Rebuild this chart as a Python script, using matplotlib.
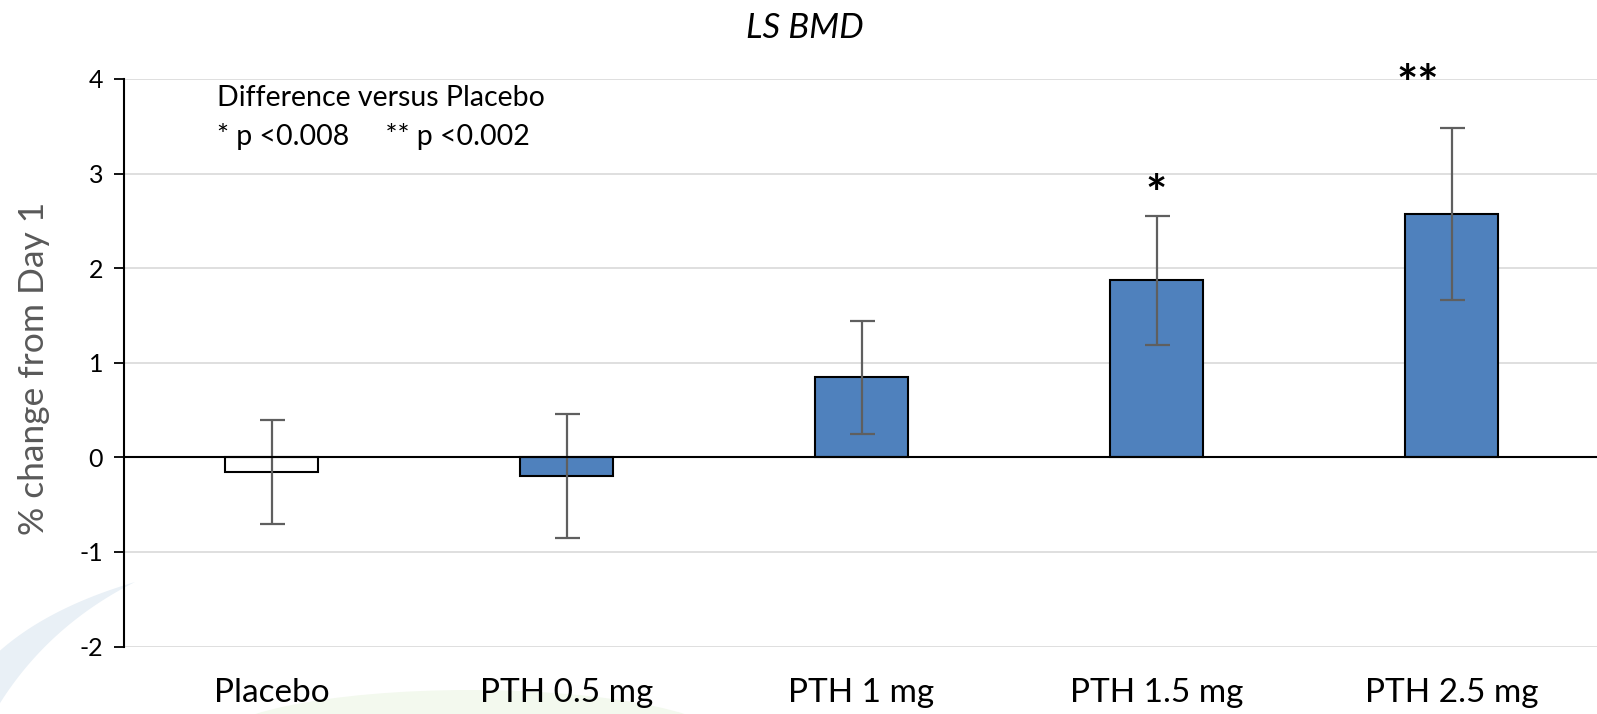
import matplotlib
matplotlib.use("Agg")
import matplotlib.pyplot as plt
from matplotlib.patches import Polygon, Ellipse
import numpy as np

categories = ["Placebo", "PTH 0.5 mg", "PTH 1 mg", "PTH 1.5 mg", "PTH 2.5 mg"]
values = [-0.16, -0.20, 0.845, 1.87, 2.57]
errors = [0.55, 0.655, 0.60, 0.68, 0.91]
bar_colors = ["white", "#4f81bd", "#4f81bd", "#4f81bd", "#4f81bd"]
yticks = [-2, -1, 0, 1, 2, 3, 4]
star_labels = ["", "", "", "*", "**"]
star_y = [None, None, None, 2.76, 3.92]

plt.rcParams['font.family'] = ['Lato', 'DejaVu Sans']

fig = plt.figure(figsize=(15.97, 7.14), dpi=100)

# faint background decoration (watermark swoosh)
bg = fig.add_axes([0, 0, 1, 1], zorder=-10)
bg.set_xlim(0, 1597); bg.set_ylim(714, 0); bg.axis('off')
t = np.linspace(0, 1, 40)
def qb(p0, p1, p2):
    p0, p1, p2 = map(np.array, (p0, p1, p2))
    return ((1-t)[:, None]**2)*p0 + (2*(1-t)*t)[:, None]*p1 + (t[:, None]**2)*p2
outer = qb((135, 582), (40, 610), (-10, 660))
inner = qb((-10, 720), (40, 630), (135, 582))
bg.add_patch(Polygon(np.vstack([outer, inner]), closed=True, color="#e9f0f6", lw=0))
bg.add_patch(Ellipse((470, 745), 520, 110, color="#f3f9ee", lw=0))

ax = fig.add_axes([124/1597, 1-646.5/714, 1475/1597, 567.5/714])
ax.patch.set_alpha(0)
x = list(range(len(categories)))
ax.bar(x, values, width=0.315, color=bar_colors, edgecolor="black", linewidth=1.5, zorder=3)
ax.errorbar(x, values, yerr=errors, fmt='none', ecolor="#5f5f5f", elinewidth=1.6,
            capsize=9, capthick=1.6, zorder=4)
ax.axhline(0, color="black", lw=1.5, zorder=5)

ax.set_xlim(-0.5, 4.5)
ax.set_ylim(-2, 4)
ax.set_yticks(yticks)
ax.set_yticklabels([str(t) for t in yticks], fontsize=18)
ax.yaxis.grid(True, color="#d9d9d9", lw=1.2, zorder=0)
ax.set_axisbelow(True)
ax.set_xticks(x)
ax.set_xticklabels(categories, fontsize=24)
ax.tick_params(axis='x', length=0, pad=23)
ax.tick_params(axis='y', length=7, width=1.3, color="black", pad=8)
for s in ["top", "right", "bottom"]:
    ax.spines[s].set_visible(False)
ax.spines["left"].set_linewidth(1.5)

ax.set_ylabel("% change from Day 1", fontsize=25.5, color="#595959")
ax.yaxis.set_label_coords(-0.050, 0.49)

for xi, lab, yy in zip(x, star_labels, star_y):
    if lab:
        ax.text(xi - (0.115 if lab == "**" else 0), yy, lab, ha='center', va='center',
                fontsize=36, fontweight='bold', clip_on=False)

fig.text(217/1597, 1-98/714, "Difference versus Placebo", fontsize=20.5, va='center')
fig.text(217/1597, 1-136/714, "* p <0.008     ** p <0.002", fontsize=20.5, va='center')
fig.text(805/1597, 1-28/714, "LS BMD", fontsize=25, style='italic', ha='center', va='center')

fig.savefig("out.png", dpi=100)
